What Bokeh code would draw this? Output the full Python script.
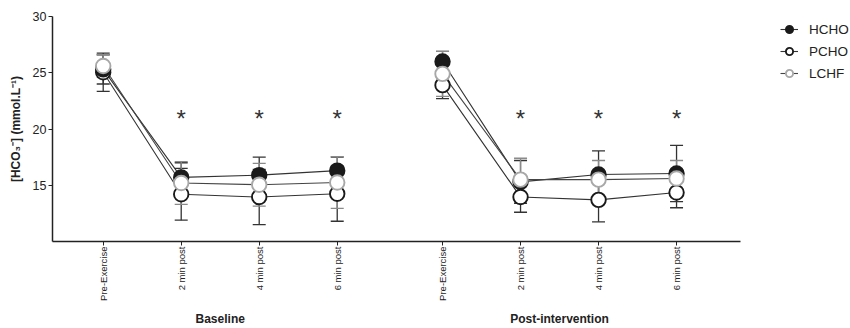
import math
from bokeh.plotting import figure
from bokeh.models import (ColumnDataSource, Whisker, TeeHead, FixedTicker, LinearAxis,
                          Legend, LegendItem, Range1d)
from bokeh.core.properties import value
from bokeh.embed import file_html
from bokeh.resources import INLINE

# ---------------- data ----------------
time_points = ["Pre-Exercise", "2 min post", "4 min post", "6 min post"]
groups = ["Baseline", "Post-intervention"]

# values: Baseline (4 time points) followed by Post-intervention (4 time points)
hcho_mean = [25.3, 15.7, 15.9, 16.3, 26.0, 15.3, 15.95, 16.05]
hcho_sd = [1.3, 1.3, 1.6, 1.2, 0.9, 1.9, 2.1, 2.5]
pcho_mean = [25.05, 14.2, 13.95, 14.25, 23.9, 13.95, 13.7, 14.35]
pcho_sd = [1.7, 2.3, 2.45, 2.45, 1.2, 1.35, 1.95, 1.35]
lchf_mean = [25.6, 15.2, 15.05, 15.25, 24.9, 15.5, 15.5, 15.6]
lchf_sd = [1.0, 1.9, 1.9, 2.3, 2.0, 1.9, 1.7, 1.6]

sig_index = [1, 2, 3, 5, 6, 7]   # time points marked with *
sig_level = 20.95

# ---------------- layout constants ----------------
GROUP_STEP = 4.35
FONT = "Liberation Sans"
AXIS_START, AXIS_END = -0.65, 8.17      # extent of the drawn x axis
VIEW_END = 9.58                         # frame continues to the right for the legend
x_pos = [i + g * GROUP_STEP for g in range(len(groups)) for i in range(len(time_points))]
tick_labels = time_points * len(groups)
group_centers = [(len(time_points) - 1) / 2 + g * GROUP_STEP for g in range(len(groups))]

p = figure(width=850, height=328, output_backend="svg", toolbar_location=None,
           x_range=Range1d(AXIS_START, VIEW_END), y_range=Range1d(10, 30),
           min_border_left=52, min_border_right=0, min_border_top=16, min_border_bottom=87)
p.outline_line_color = None
p.xgrid.grid_line_color = None
p.ygrid.grid_line_color = None
p.background_fill_color = "white"

# x axis
xa = p.xaxis[0]
xa.bounds = (AXIS_START, AXIS_END)
xa.ticker = FixedTicker(ticks=x_pos)
xa.major_label_overrides = {x: lab for x, lab in zip(x_pos, tick_labels)}
xa.major_label_orientation = math.pi / 2
xa.major_label_text_font = FONT
xa.major_label_text_font_size = "9.5px"
xa.major_label_text_color = "#222222"
xa.major_label_standoff = 1
xa.minor_tick_line_color = None
xa.major_tick_in = 0
xa.major_tick_out = 4
xa.axis_line_width = 1.5
xa.axis_line_color = "#222222"
xa.major_tick_line_color = "#222222"

ga = LinearAxis(ticker=FixedTicker(ticks=group_centers),
                major_label_overrides={x: lab for x, lab in zip(group_centers, groups)})
ga.axis_line_color = None
ga.major_tick_line_color = None
ga.minor_tick_line_color = None
ga.major_tick_in = 0
ga.major_tick_out = 0
ga.major_label_standoff = 8
ga.major_label_text_font = FONT
ga.major_label_text_font_style = "bold"
ga.major_label_text_font_size = "12px"
ga.major_label_text_color = "#222222"
p.add_layout(ga, "below")

# y axis
ya = p.yaxis[0]
ya.ticker = FixedTicker(ticks=[15, 20, 25, 30])
ya.minor_tick_line_color = None
ya.major_tick_in = 0
ya.major_tick_out = 4
ya.axis_line_width = 1.5
ya.axis_line_color = "#222222"
ya.major_tick_line_color = "#222222"
ya.major_label_text_font = FONT
ya.major_label_text_font_size = "12.5px"
ya.major_label_text_color = "#222222"
ya.major_label_standoff = 2
ya.axis_label = "[HCO\u2083\u207b] (mmol.L\u207b\u00b9)"
ya.axis_label_text_font = FONT
ya.axis_label_text_font_style = "bold"
ya.axis_label_text_font_size = "12px"
ya.axis_label_text_color = "#222222"
ya.axis_label_standoff = 7

series = [
    ("HCHO", hcho_mean, hcho_sd, dict(fill_color="#1a1a1a", line_color="#1a1a1a"), "#333333", "#333333"),
    ("PCHO", pcho_mean, pcho_sd, dict(fill_color="white", line_color="#1a1a1a"), "#333333", "#333333"),
    ("LCHF", lchf_mean, lchf_sd, dict(fill_color="white", line_color="#a8a8a8"), "#8a8a8a", "#444444"),
]

n = len(time_points)
nan = float("nan")
renderers = {}
for name, mean, sd, style, ecol, lcol in series:
    src = ColumnDataSource(dict(x=x_pos, upper=[m + s for m, s in zip(mean, sd)],
                                lower=[m - s for m, s in zip(mean, sd)]))
    w = Whisker(source=src, base="x", upper="upper", lower="lower",
                line_color=ecol, line_width=1.3,
                upper_head=TeeHead(size=13, line_color=ecol, line_width=1.3),
                lower_head=TeeHead(size=13, line_color=ecol, line_width=1.3))
    p.add_layout(w)

lines = {}
for name, mean, sd, style, ecol, lcol in series:
    xs = x_pos[:n] + [nan] + x_pos[n:]
    ys = list(mean[:n]) + [nan] + list(mean[n:])
    lines[name] = p.line(xs, ys, line_color=lcol, line_width=1.1)

order = ["PCHO", "HCHO", "LCHF"]
sd_map = {s[0]: s for s in series}
for name in order:
    _, mean, sd, style, ecol, lcol = sd_map[name]
    renderers[name] = p.scatter(x_pos, mean, marker="circle", size=14.5, line_width=1.9, **style)

# significance asterisks
p.text(x=[x_pos[i] for i in sig_index], y=[sig_level] * len(sig_index),
       text=["*"] * len(sig_index), text_align="center", text_baseline="middle",
       text_font=value(FONT), text_font_size="24px", text_color="#333333")

legend = Legend(items=[LegendItem(label=s[0], renderers=[lines[s[0]], renderers[s[0]]]) for s in series],
                location=(728, 158), orientation="vertical",
                border_line_color=None, background_fill_alpha=0,
                padding=0, margin=0, spacing=2,
                glyph_width=18, glyph_height=20, label_height=20, label_standoff=11,
                label_text_font=FONT, label_text_font_size="13.5px", label_text_color="#222222")
p.add_layout(legend, "center")

open("out.html", "w").write(file_html(p, INLINE))
